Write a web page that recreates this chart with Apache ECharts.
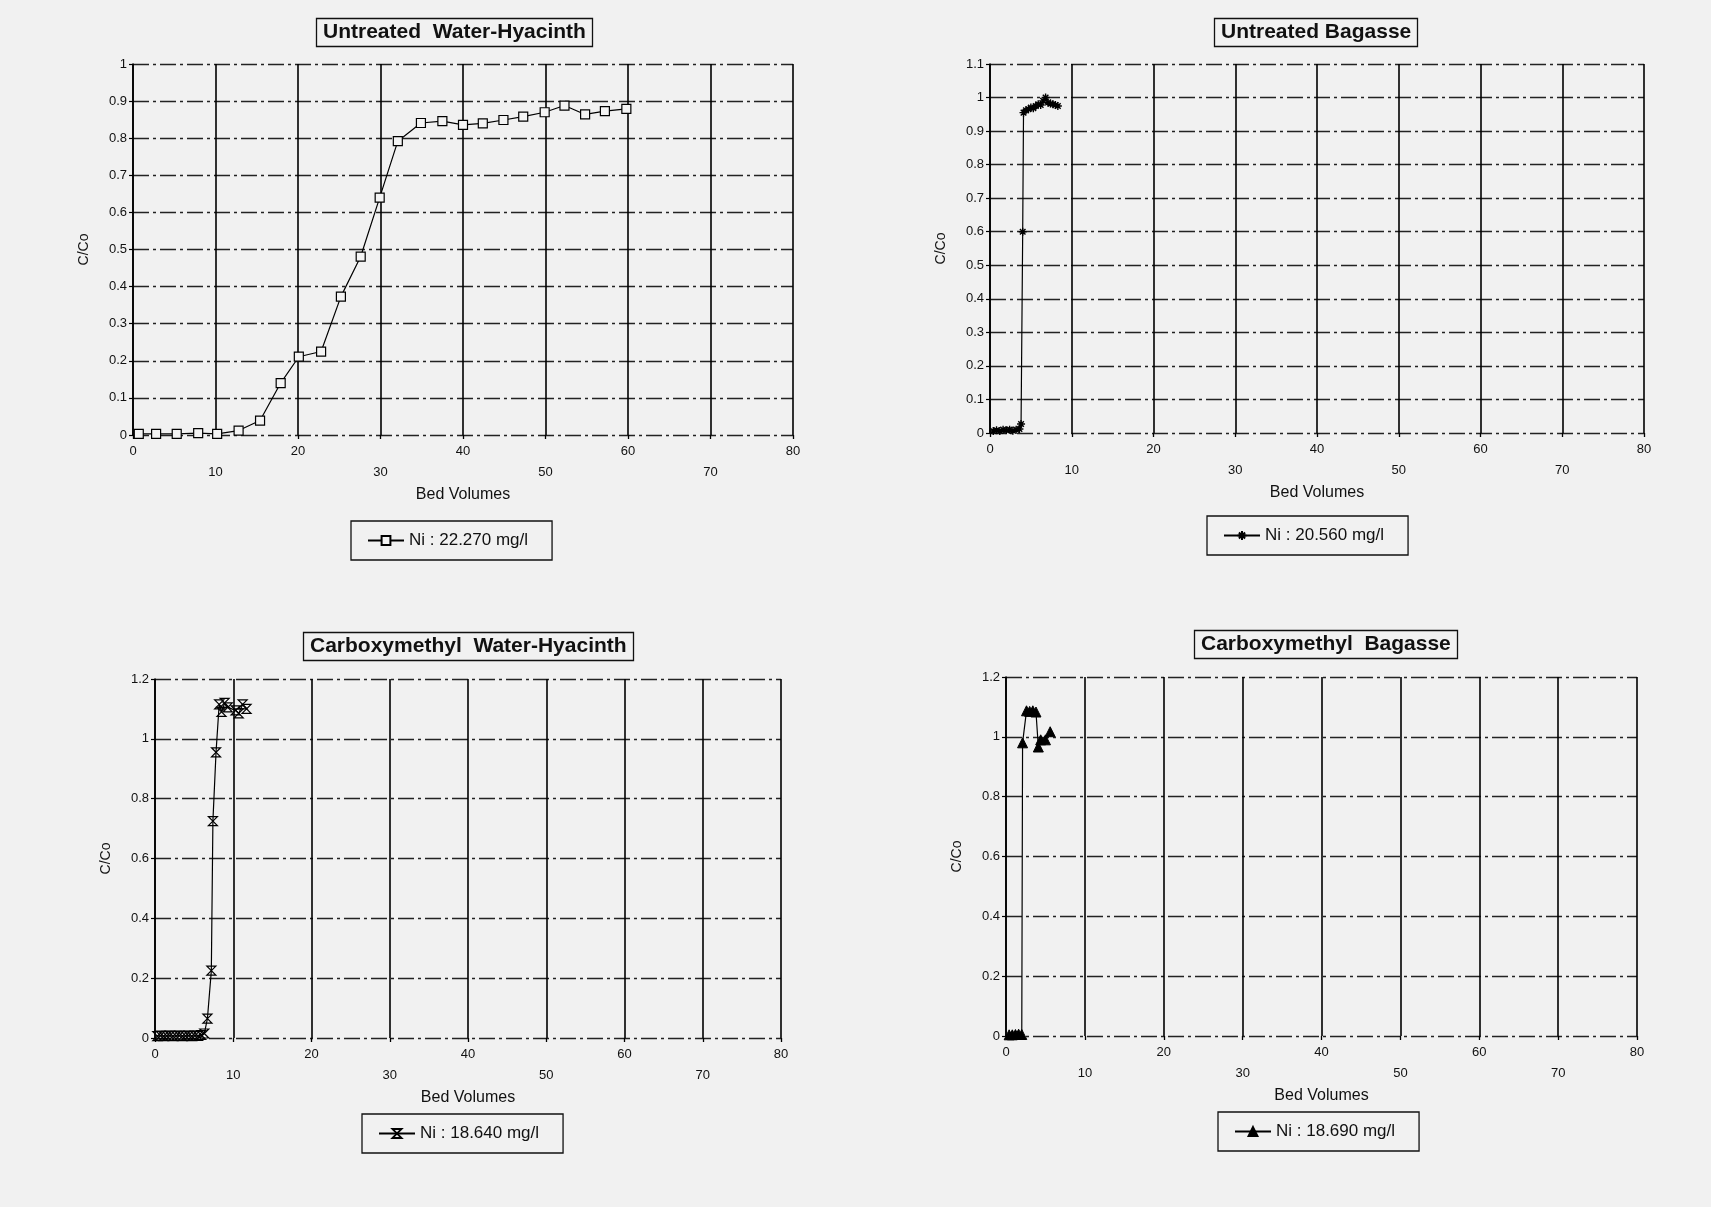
<!DOCTYPE html>
<html>
<head>
<meta charset="utf-8">
<script src="https://cdn.jsdelivr.net/npm/echarts@6/dist/echarts.min.js"></script>
<style>
html,body{margin:0;padding:0;background:#f1f1f1;}
#c{width:1711px;height:1207px;}
</style>
</head>
<body>
<div id="c"></div>
<script>
// ---- Data ----
const titles = ['Untreated  Water-Hyacinth', 'Untreated Bagasse', 'Carboxymethyl  Water-Hyacinth', 'Carboxymethyl  Bagasse'];
const seriesNames = ['Ni : 22.270 mg/l', 'Ni : 20.560 mg/l', 'Ni : 18.640 mg/l', 'Ni : 18.690 mg/l'];
const xTicks = [0, 10, 20, 30, 40, 50, 60, 70, 80];

const uwhX = [0.7, 2.8, 5.3, 7.9, 10.2, 12.8, 15.4, 17.9, 20.1, 22.8, 25.2, 27.6, 29.9, 32.1, 34.9, 37.5, 40.0, 42.4, 44.9, 47.3, 49.9, 52.3, 54.8, 57.2, 59.8];
const uwhY = [0.003, 0.003, 0.003, 0.005, 0.003, 0.012, 0.039, 0.14, 0.211, 0.225, 0.373, 0.481, 0.64, 0.792, 0.841, 0.846, 0.836, 0.84, 0.849, 0.858, 0.87, 0.888, 0.864, 0.873, 0.879];

const ubX = [0.4, 0.8, 1.2, 1.6, 2.0, 2.4, 2.8, 3.2, 3.6, 3.8, 4.0, 4.1, 4.4, 4.7, 5.0, 5.3, 5.6, 5.9, 6.2, 6.5, 6.8, 7.1, 7.4, 7.7, 8.0, 8.3];
const ubY = [0.006, 0.008, 0.006, 0.01, 0.008, 0.01, 0.007, 0.01, 0.012, 0.027, 0.6, 0.955, 0.962, 0.965, 0.97, 0.968, 0.975, 0.98, 0.978, 0.99, 1.0, 0.985, 0.982, 0.98, 0.978, 0.975];

const cwhX = [0.3, 0.7, 1.1, 1.5, 1.9, 2.3, 2.7, 3.1, 3.5, 3.9, 4.3, 4.7, 5.1, 5.5, 5.9, 6.3, 6.7, 7.2, 7.4, 7.8, 8.2, 8.5, 8.9, 9.3, 10.3, 10.7, 11.2, 11.7];
const cwhY = [0.006, 0.008, 0.006, 0.007, 0.008, 0.006, 0.007, 0.008, 0.006, 0.007, 0.008, 0.006, 0.008, 0.007, 0.01, 0.015, 0.065, 0.225, 0.725, 0.955, 1.115, 1.09, 1.12, 1.105, 1.095, 1.085, 1.115, 1.10];

const cbX = [0.4, 0.8, 1.2, 1.6, 2.0, 2.1, 2.6, 3.0, 3.4, 3.8, 4.1, 4.4, 5.0, 5.6];
const cbY = [0.004, 0.004, 0.005, 0.006, 0.005, 0.98, 1.087, 1.085, 1.087, 1.083, 0.966, 0.99, 0.99, 1.017];

const yMax = [1, 1.1, 1.2, 1.2];
const yStep = [0.1, 0.1, 0.2, 0.2];

// ---- Layout ----
const grids = [
  {left: 133, top: 64, width: 660, height: 371},
  {left: 990, top: 64, width: 654, height: 369},
  {left: 155, top: 679, width: 626, height: 359},
  {left: 1006, top: 677, width: 631, height: 359}
];
const titlePos = [{left: 316, top: 18}, {left: 1214, top: 18}, {left: 303, top: 632}, {left: 1194, top: 630}];
const legendPos = [{left: 351, top: 521}, {left: 1207, top: 516}, {left: 362, top: 1114}, {left: 1218, top: 1112}];

const FONT = 'Liberation Sans, Arial, sans-serif';
const symbols = [
  'rect',
  'path://M5,0 L5,10 M0,5 L10,5 M1.5,1.5 L8.5,8.5 M8.5,1.5 L1.5,8.5',
  'path://M0,0 L10,0 L0,10 L10,10 Z',
  'triangle'
];
const symStyles = [
  {color: '#f4f4f4', borderColor: '#000', borderWidth: 1.2},
  {color: 'rgba(0,0,0,0)', borderColor: '#000', borderWidth: 1.4},
  {color: 'rgba(0,0,0,0)', borderColor: '#000', borderWidth: 1.2},
  {color: '#000', borderColor: '#000', borderWidth: 1}
];
const symSizes = [9, 8, 9, 10];
const xsAll = [uwhX, ubX, cwhX, cbX];
const ysAll = [uwhY, ubY, cwhY, cbY];

const option = {
  backgroundColor: '#f1f1f1',
  animation: false,
  title: titles.map((t, i) => ({
    text: t, left: titlePos[i].left, top: titlePos[i].top,
    padding: [4, 7, 4, 7],
    borderColor: '#111', borderWidth: 1.3,
    textStyle: {fontFamily: FONT, fontWeight: 'bold', fontSize: 21, color: '#111'}
  })),
  legend: seriesNames.map((n, i) => ({
    data: [n], left: legendPos[i].left, top: legendPos[i].top,
    padding: [11, 24, 11, 16],
    borderColor: '#111', borderWidth: 1.3,
    itemWidth: 36, itemHeight: 11, itemGap: 6,
    textStyle: {fontFamily: FONT, fontSize: 17, color: '#111'}
  })),
  grid: grids.map(g => Object.assign({containLabel: false}, g)),
  xAxis: grids.map((g, i) => ({
    gridIndex: i, type: 'value', min: 0, max: 80, interval: 10,
    name: 'Bed Volumes', nameLocation: 'middle', nameGap: 52,
    nameTextStyle: {fontFamily: FONT, fontSize: 16, color: '#111'},
    axisLine: {show: false},
    axisTick: {show: true, length: 4, lineStyle: {color: '#000', width: 1.3}},
    axisLabel: {
      fontFamily: FONT, fontSize: 13, color: '#111', margin: 6, lineHeight: 21,
      formatter: v => ((v / 10) % 2 === 1 ? '\n' + v : '' + v)
    },
    splitLine: {show: true, lineStyle: {color: '#000', width: 1.6, type: 'solid'}}
  })),
  yAxis: grids.map((g, i) => ({
    gridIndex: i, type: 'value', min: 0, max: yMax[i], interval: yStep[i],
    name: 'C/Co', nameLocation: 'middle', nameGap: 42, nameRotate: 90,
    nameTextStyle: {fontFamily: FONT, fontSize: 14, color: '#111'},
    axisLine: {show: true, onZero: false, lineStyle: {color: '#000', width: 1.6}},
    axisTick: {show: true, length: 4, lineStyle: {color: '#000', width: 1.2}},
    axisLabel: {fontFamily: FONT, fontSize: 13, color: '#111', margin: 6},
    splitLine: {show: true, lineStyle: {color: '#222', width: 1.4, type: [16, 4, 3, 4]}}
  })),
  series: seriesNames.map((n, i) => ({
    name: n, type: 'line', xAxisIndex: i, yAxisIndex: i,
    data: xsAll[i].map((x, k) => [x, ysAll[i][k]]),
    symbol: symbols[i], symbolSize: symSizes[i], showSymbol: true,
    lineStyle: {color: '#000', width: 1.2},
    itemStyle: symStyles[i]
  }))
};

const chart = echarts.init(document.getElementById('c'), null, {renderer: 'canvas', width: 1711, height: 1207});
chart.setOption(option);
</script>
</body>
</html>
